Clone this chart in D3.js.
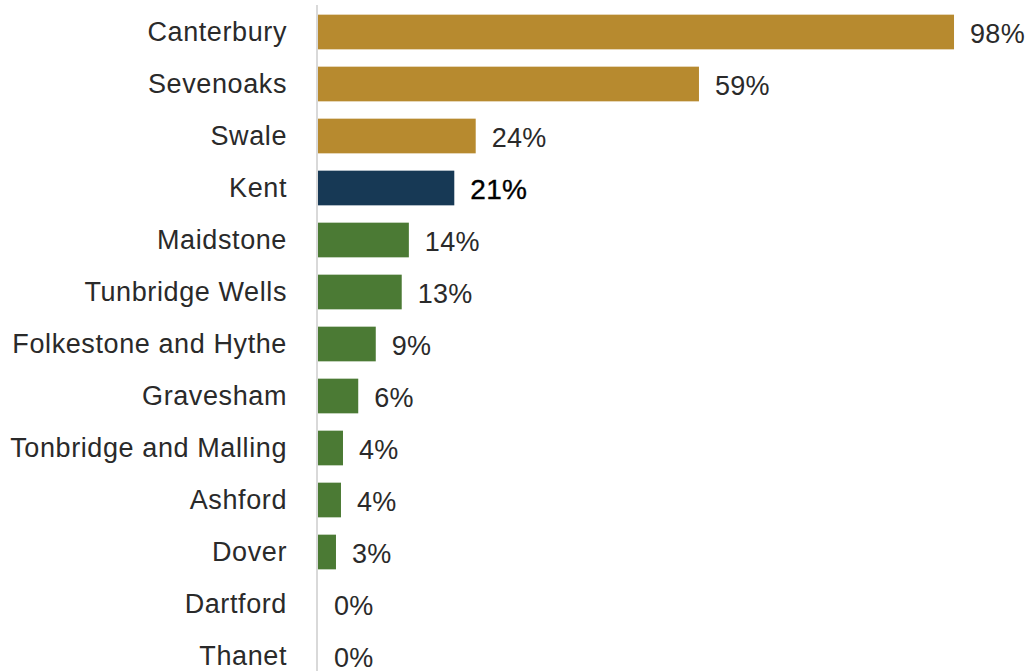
<!DOCTYPE html>
<html>
<head>
<meta charset="utf-8">
<script src="https://cdn.jsdelivr.net/npm/d3@7"></script>
<style>
  html, body { margin: 0; padding: 0; background: #fff; }
  svg { display: block; }
  text { font-family: "Liberation Sans", Arial, sans-serif; }
</style>
</head>
<body>
<script>
// Share by district, Kent average highlighted
const districts = ["Canterbury", "Sevenoaks", "Swale", "Kent", "Maidstone", "Tunbridge Wells",
  "Folkestone and Hythe", "Gravesham", "Tonbridge and Malling", "Ashford", "Dover", "Dartford", "Thanet"];
const shares = [0.98, 0.587, 0.243, 0.21, 0.14, 0.129, 0.089, 0.062, 0.0385, 0.0354, 0.0277, 0, 0];
const groups = ["above", "above", "above", "kent", "below", "below", "below", "below", "below", "below", "below", "below", "below"];

const colors = { above: "#B78A2F", kent: "#173955", below: "#4B7A34" };

const width = 1032, height = 671;
const rows = districts.map((d, i) => ({ name: d, value: shares[i], group: groups[i] }));

const svg = d3.select("body").append("svg")
  .attr("width", width).attr("height", height);

const x = d3.scaleLinear().domain([0, 1]).range([318, 967]);
const y = d3.scaleBand().domain(districts).range([6, 682]).paddingInner(0.333).paddingOuter(0.1665);

const fmt = d3.format(".0%");

// Bars
svg.append("g").selectAll("rect").data(rows).join("rect")
  .attr("x", x(0))
  .attr("y", d => y(d.name))
  .attr("width", d => x(d.value) - x(0))
  .attr("height", y.bandwidth())
  .attr("fill", d => colors[d.group]);

// Category axis
const yAxis = d3.axisLeft(y).tickSize(0).tickPadding(30);
const gAxis = svg.append("g").attr("transform", `translate(${x(0) - 1},0)`).call(yAxis);
gAxis.select(".domain").remove();
gAxis.selectAll("text")
  .attr("font-size", 27)
  .attr("fill", "#2a2a2a")
  .attr("dy", "0.32em")
  .style("letter-spacing", "0.6px")
  .style("font-family", "'Liberation Sans', Arial, sans-serif");

svg.append("line")
  .attr("x1", x(0) - 1).attr("x2", x(0) - 1)
  .attr("y1", 5).attr("y2", height)
  .attr("stroke", "#d9d9d9").attr("stroke-width", 2);

// Value labels
svg.append("g").selectAll("text").data(rows).join("text")
  .attr("x", d => x(d.value) + 16)
  .attr("y", d => y(d.name) + y.bandwidth() / 2)
  .attr("dy", "0.40em")
  .attr("font-size", d => d.group === "kent" ? 28 : 27)
  .attr("fill", d => d.group === "kent" ? "#000" : "#2a2a2a")
  .attr("stroke", d => d.group === "kent" ? "#000" : "none")
  .attr("stroke-width", 0.35)
  .style("letter-spacing", "0.3px")
  .text(d => fmt(d.value));
</script>
</body>
</html>
